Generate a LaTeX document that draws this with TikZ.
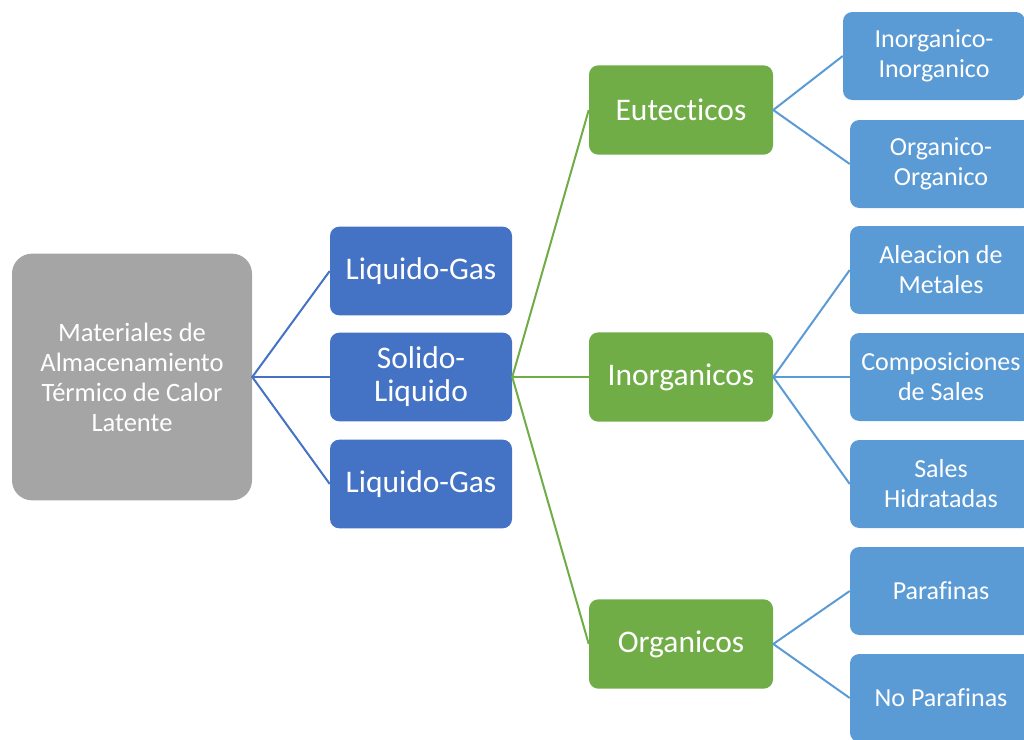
\documentclass[tikz,border=0pt]{standalone}
\usepackage{fontspec}
\setmainfont[Ligatures=NoCommon]{Carlito}
\definecolor{rootgray}{HTML}{A5A5A5}
\definecolor{phaseblue}{HTML}{4472C4}
\definecolor{classgreen}{HTML}{70AD47}
\definecolor{typeblue}{HTML}{5B9BD5}
\begin{document}
\begin{tikzpicture}[x=0.75pt,y=-0.75pt,
		rootbox/.style={rectangle, rounded corners=15pt, fill=rootgray, text=white, align=center, inner sep=0pt,
			minimum width=180pt, minimum height=185pt, font=\fontsize{19.9}{22.5}\selectfont},
		phasebox/.style={rectangle, rounded corners=7pt, fill=phaseblue, text=white, align=center, inner sep=0pt,
			minimum width=136.5pt, minimum height=66.5pt, font=\fontsize{23.6}{24.75}\selectfont},
		classbox/.style={phasebox, fill=classgreen, minimum width=138pt, minimum height=67pt},
		typebox/.style={rectangle, rounded corners=7pt, fill=typeblue, text=white, align=center, inner sep=0pt,
			minimum width=136.5pt, minimum height=66pt, font=\fontsize{19.5}{22.5}\selectfont},
		link/.style={line width=1.5pt}]
		\useasboundingbox (0,0) rectangle (1024,739);
		\clip (0,0) rectangle (1024,739);

		\node[rootbox] (root) at (132,377) {Materiales de\\Almacenamiento\\Térmico de Calor\\Latente};

		\node[phasebox] (lg1) at (421,271) {Liquido-Gas};
		\node[phasebox] (sl) at (421,377) {Solido-\\Liquido};
		\node[phasebox] (lg2) at (421,484) {Liquido-Gas};

		\node[classbox] (eut) at (681,110) {Eutecticos};
		\node[classbox] (inorg) at (681,377) {Inorganicos};
		\node[classbox] (org) at (681,644) {Organicos};

		\node[typebox] (ii) at (934,56) {Inorganico-\\Inorganico};
		\node[typebox] (oo) at (941,164) {Organico-\\Organico};
		\node[typebox] (alea) at (941,270) {Aleacion de\\Metales};
		\node[typebox] (comp) at (941,377) {Composiciones\\de Sales};
		\node[typebox] (hidr) at (941,484) {Sales\\Hidratadas};
		\node[typebox] (par) at (941,591) {Parafinas};
		\node[typebox] (nopar) at (941,698) {No Parafinas};

		\draw[link, phaseblue] (lg1.west) -- (root.east) -- (lg2.west);
		\draw[link, phaseblue] (root.east) -- (sl.west);

		\draw[link, classgreen] (eut.west) -- (sl.east) -- (org.west);
		\draw[link, classgreen] (sl.east) -- (inorg.west);

		\draw[link, typeblue] (ii.west) -- (eut.east) -- (oo.west);
		\draw[link, typeblue] (alea.west) -- (inorg.east) -- (hidr.west);
		\draw[link, typeblue] (inorg.east) -- (comp.west);
		\draw[link, typeblue] (par.west) -- (org.east) -- (nopar.west);
	\end{tikzpicture}
\end{document}
